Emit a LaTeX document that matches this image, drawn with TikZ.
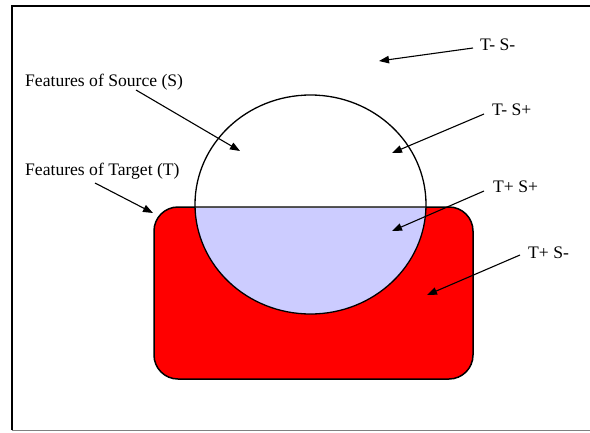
\documentclass[tikz,border=0pt]{standalone}
\usepackage{fontspec}
\setmainfont{Liberation Serif}
\usetikzlibrary{arrows.meta}
\definecolor{setblue}{HTML}{CCCCFF}
\tikzset{
  lbl/.style={anchor=west,inner sep=0pt,font=\fontsize{17.6}{20}\selectfont},
  pointer/.style={line width=1.1pt,-{Triangle[length=10pt,width=7.5pt]}},
}
\begin{document}
\begin{tikzpicture}[x=1pt,y=-1pt]
\useasboundingbox (0,0) rectangle (590,432);
\fill[white] (0,0) rectangle (590,432);
% frame
\draw[line width=1.6pt] (12,430) -- (12,6) -- (590,6);
\draw[gray,line width=1pt] (12,430) -- (590,430);
% target rectangle
\path[fill=red,draw=black,line width=1.5pt,rounded corners=24pt] (154,207) rectangle (473,379);
% intersection
\begin{scope}
\clip[rounded corners=24pt] (154,207) rectangle (473,379);
\fill[setblue] (310.5,204.5) ellipse [x radius=115.5, y radius=109.5];
\end{scope}
\draw[black!70,line width=1pt] (195,207) -- (426,207);
% source circle
\draw[line width=1.3pt] (310.5,204.5) ellipse [x radius=115.5, y radius=109.5];
% labels
\node[lbl] (tmsm) at (480,45) {T- S-};
\node[lbl] (tmsp) at (492,110) {T- S+};
\node[lbl] (tpsp) at (493,187) {T+ S+};
\node[lbl] (tpsm) at (528,253) {T+ S-};
\node[lbl] (fs) at (25,82) {Features of Source (S)};
\node[lbl] (ft) at (25,171) {Features of Target (T)};
% pointer ends
\coordinate (a1s) at (473,48);  \coordinate (a1e) at (379,61);
\coordinate (a2s) at (484,114); \coordinate (a2e) at (392,153);
\coordinate (a3s) at (484,191); \coordinate (a3e) at (392,231);
\coordinate (a4s) at (520,255); \coordinate (a4e) at (427,295);
\coordinate (a5s) at (136,90);  \coordinate (a5e) at (240,151);
\coordinate (a6s) at (95,183);  \coordinate (a6e) at (153,213);
\draw[pointer] (a1s) -- (a1e);
\draw[pointer] (a2s) -- (a2e);
\draw[pointer] (a3s) -- (a3e);
\draw[pointer] (a4s) -- (a4e);
\draw[pointer] (a5s) -- (a5e);
\draw[pointer] (a6s) -- (a6e);
\end{tikzpicture}
\end{document}
